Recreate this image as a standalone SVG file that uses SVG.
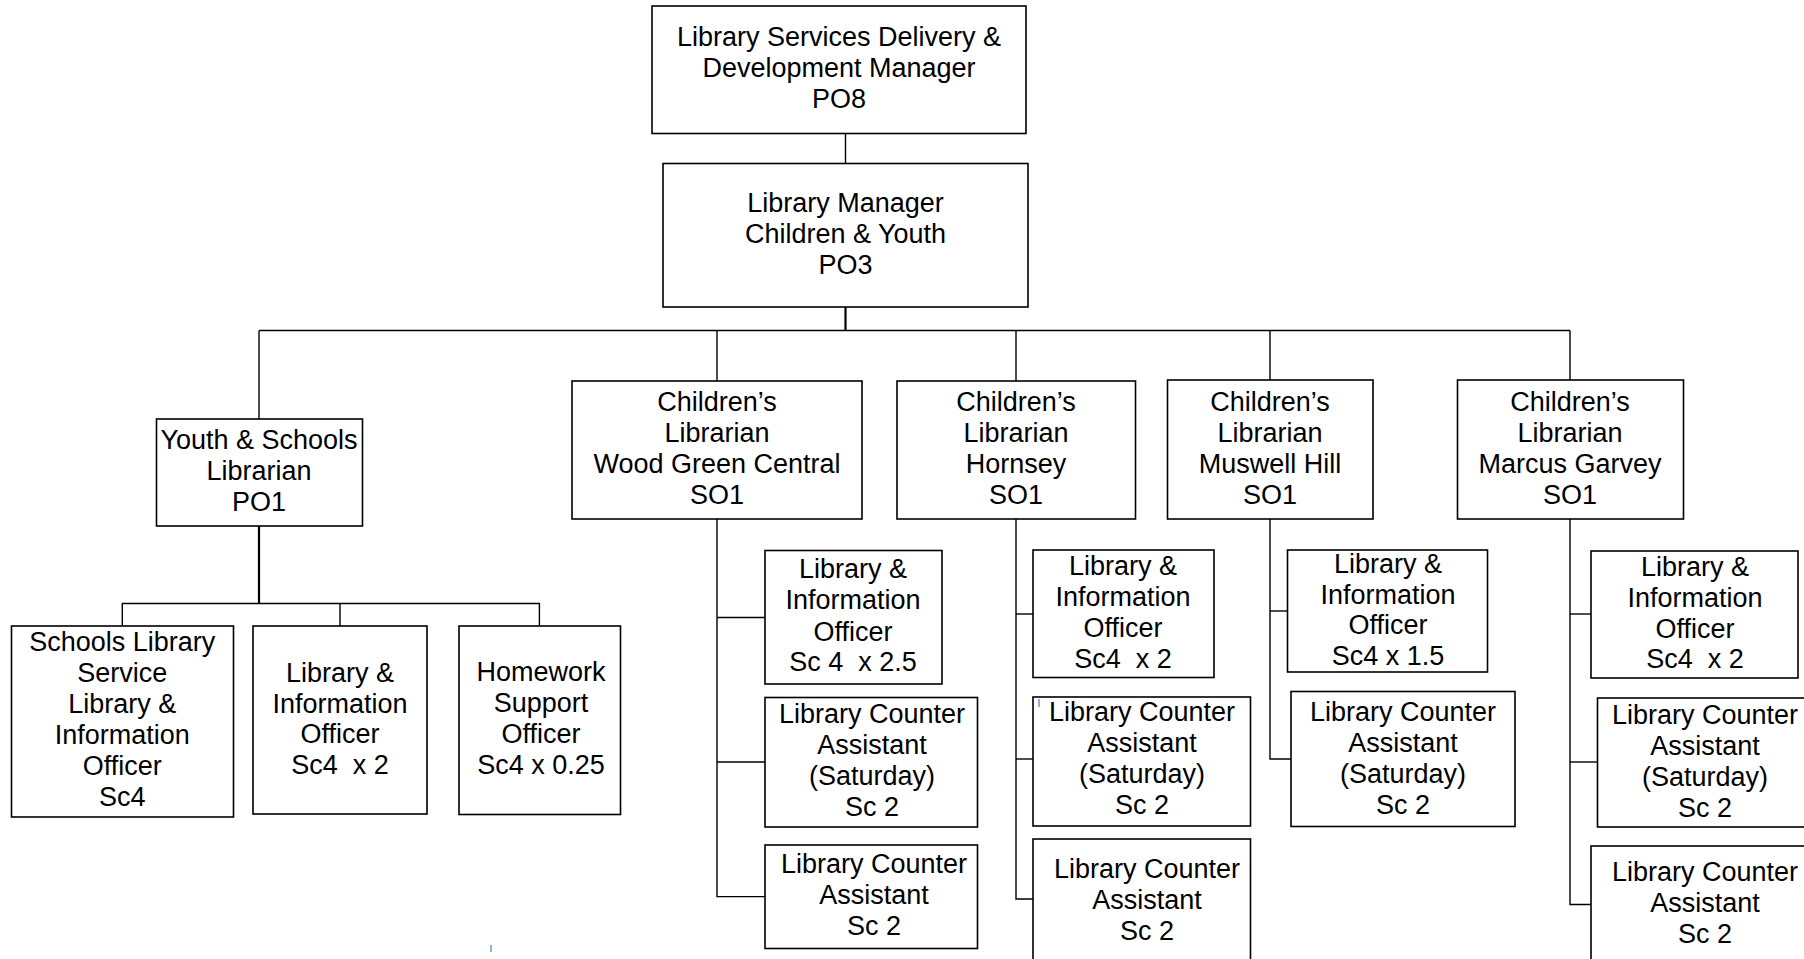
<svg xmlns="http://www.w3.org/2000/svg" width="1804" height="959" viewBox="0 0 1804 959">
<style>
rect.b{fill:#fff;stroke:#000;stroke-width:1.6}
text{font-family:"Liberation Sans",Arial,sans-serif;font-size:27px;fill:#000;text-anchor:middle}
.c line,.c polyline{stroke:#000;stroke-width:1.4;fill:none}
.c .t{stroke-width:2.2}
.tick{stroke:#4a78c8;stroke-width:1.2}
</style>
<rect width="1804" height="959" fill="#fff"/>
<g class="c" id="connectors">
<line x1="845.5" y1="133.5" x2="845.5" y2="163.5"/>
<line class="t" x1="845.5" y1="307" x2="845.5" y2="330.5"/>
<line x1="259" y1="330.5" x2="1570" y2="330.5"/>
<line x1="259" y1="330.5" x2="259" y2="419"/>
<line x1="717" y1="330.5" x2="717" y2="381"/>
<line x1="1016" y1="330.5" x2="1016" y2="381"/>
<line x1="1270" y1="330.5" x2="1270" y2="380"/>
<line x1="1570" y1="330.5" x2="1570" y2="380"/>
<line class="t" x1="259" y1="526" x2="259" y2="603.5"/>
<polyline points="122.3,626 122.3,603.5 539.4,603.5 539.4,626"/>
<line x1="340" y1="603.5" x2="340" y2="626"/>
<polyline points="717,519 717,896.6 765,896.6"/>
<line x1="717" y1="617.5" x2="765" y2="617.5"/>
<line x1="717" y1="762" x2="765" y2="762"/>
<polyline points="1016,519 1016,899 1033,899"/>
<line x1="1016" y1="614" x2="1033" y2="614"/>
<line x1="1016" y1="759" x2="1033" y2="759"/>
<polyline points="1270,519 1270,759 1291,759"/>
<line x1="1270" y1="611" x2="1287.5" y2="611"/>
<polyline points="1570,519 1570,904.5 1591,904.5"/>
<line x1="1570" y1="614" x2="1591" y2="614"/>
<line x1="1570" y1="762" x2="1597.5" y2="762"/>
</g>
<g id="n-top"><rect class="b" x="652" y="6" width="374" height="127.5"/>
<text x="839" y="46">Library Services Delivery &amp;</text><text x="839" y="77">Development Manager</text><text x="839" y="108">PO8</text></g>
<g id="n-lm"><rect class="b" x="663" y="163.5" width="365" height="143.5"/>
<text x="845.5" y="212">Library Manager</text><text x="845.5" y="243">Children &amp; Youth</text><text x="845.5" y="274">PO3</text></g>
<g id="n-youth"><rect class="b" x="156.5" y="419" width="206" height="107"/>
<text x="259" y="449">Youth &amp; Schools</text><text x="259" y="480">Librarian</text><text x="259" y="511">PO1</text></g>
<g id="n-sls"><rect class="b" x="11.5" y="626" width="222" height="191"/>
<text x="122.3" y="651">Schools Library</text><text x="122.3" y="682">Service</text><text x="122.3" y="713">Library &amp;</text><text x="122.3" y="744">Information</text><text x="122.3" y="775">Officer</text><text x="122.3" y="806">Sc4</text></g>
<g id="n-ylio"><rect class="b" x="253" y="626" width="174" height="188"/>
<text x="340" y="682">Library &amp;</text><text x="340" y="712.5">Information</text><text x="340" y="743">Officer</text><text x="340" y="773.5" xml:space="preserve">Sc4  x 2</text></g>
<g id="n-hw"><rect class="b" x="459" y="626" width="161.5" height="188.5"/>
<text x="541" y="681">Homework</text><text x="541" y="712">Support</text><text x="541" y="743">Officer</text><text x="541" y="774">Sc4 x 0.25</text></g>
<g id="n-wg"><rect class="b" x="572" y="381" width="290" height="138"/>
<text x="717" y="410.5">Children’s</text><text x="717" y="441.5">Librarian</text><text x="717" y="473">Wood Green Central</text><text x="717" y="504">SO1</text></g>
<g id="n-wg-lio"><rect class="b" x="765" y="550.5" width="177" height="133.5"/>
<text x="853" y="578">Library &amp;</text><text x="853" y="609">Information</text><text x="853" y="640.5">Officer</text><text x="853" y="671" xml:space="preserve">Sc 4  x 2.5</text></g>
<g id="n-wg-lcas"><rect class="b" x="765" y="697.5" width="212.5" height="129.5"/>
<text x="872" y="723">Library Counter</text><text x="872" y="754">Assistant</text><text x="872" y="785">(Saturday)</text><text x="872" y="816">Sc 2</text></g>
<g id="n-wg-lca"><rect class="b" x="765" y="845" width="212.5" height="103.5"/>
<text x="874" y="873">Library Counter</text><text x="874" y="904">Assistant</text><text x="874" y="935">Sc 2</text></g>
<g id="n-ho"><rect class="b" x="897" y="381" width="238.5" height="138"/>
<text x="1016" y="410.5">Children’s</text><text x="1016" y="441.5">Librarian</text><text x="1016" y="473">Hornsey</text><text x="1016" y="504">SO1</text></g>
<g id="n-ho-lio"><rect class="b" x="1033" y="550" width="181" height="127.5"/>
<text x="1123" y="575">Library &amp;</text><text x="1123" y="606">Information</text><text x="1123" y="637">Officer</text><text x="1123" y="668" xml:space="preserve">Sc4  x 2</text></g>
<g id="n-ho-lcas"><rect class="b" x="1033" y="697" width="217.5" height="129"/>
<text x="1142" y="721">Library Counter</text><text x="1142" y="752">Assistant</text><text x="1142" y="783">(Saturday)</text><text x="1142" y="814">Sc 2</text></g>
<g id="n-ho-lca"><rect class="b" x="1033" y="839" width="217.5" height="140"/>
<text x="1147" y="878">Library Counter</text><text x="1147" y="909">Assistant</text><text x="1147" y="940">Sc 2</text></g>
<g id="n-mh"><rect class="b" x="1167.5" y="380" width="205.5" height="139"/>
<text x="1270" y="411">Children’s</text><text x="1270" y="442">Librarian</text><text x="1270" y="473">Muswell Hill</text><text x="1270" y="504">SO1</text></g>
<g id="n-mh-lio"><rect class="b" x="1287.5" y="550" width="200" height="122"/>
<text x="1388" y="572.5">Library &amp;</text><text x="1388" y="603.5">Information</text><text x="1388" y="634">Officer</text><text x="1388" y="665">Sc4 x 1.5</text></g>
<g id="n-mh-lcas"><rect class="b" x="1291" y="691.5" width="224" height="135"/>
<text x="1403" y="720.5">Library Counter</text><text x="1403" y="752">Assistant</text><text x="1403" y="783">(Saturday)</text><text x="1403" y="814">Sc 2</text></g>
<g id="n-mg"><rect class="b" x="1457.5" y="380" width="226" height="139"/>
<text x="1570" y="411">Children’s</text><text x="1570" y="442">Librarian</text><text x="1570" y="473">Marcus Garvey</text><text x="1570" y="504">SO1</text></g>
<g id="n-mg-lio"><rect class="b" x="1591" y="551" width="207" height="127"/>
<text x="1695" y="575.5">Library &amp;</text><text x="1695" y="607">Information</text><text x="1695" y="637.5">Officer</text><text x="1695" y="668" xml:space="preserve">Sc4  x 2</text></g>
<g id="n-mg-lcas"><rect class="b" x="1597.5" y="698" width="230" height="129"/>
<text x="1705" y="723.5">Library Counter</text><text x="1705" y="755">Assistant</text><text x="1705" y="786">(Saturday)</text><text x="1705" y="817">Sc 2</text></g>
<g id="n-mg-lca"><rect class="b" x="1591" y="846" width="236" height="140"/>
<text x="1705" y="881">Library Counter</text><text x="1705" y="912">Assistant</text><text x="1705" y="943">Sc 2</text></g>
<line class="tick" x1="1039" y1="699" x2="1039" y2="707"/>
<line class="tick" x1="491" y1="945" x2="491" y2="952"/>
</svg>
